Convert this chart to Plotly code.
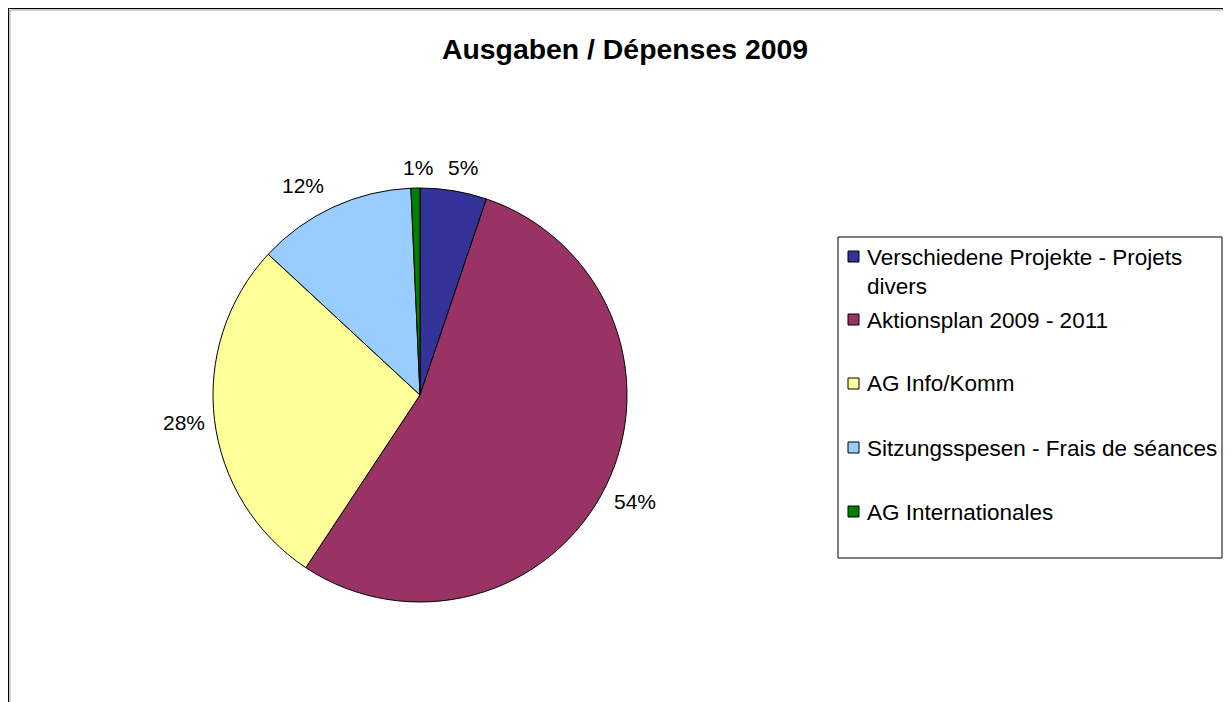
import math
import plotly.graph_objects as go

# Data
categories = [
    "Verschiedene Projekte - Projets divers",
    "Aktionsplan 2009 - 2011",
    "AG Info/Komm",
    "Sitzungsspesen - Frais de séances",
    "AG Internationales",
]
legend_text = [
    "Verschiedene Projekte - Projets<br>divers",
    "Aktionsplan 2009 - 2011",
    "AG Info/Komm",
    "Sitzungsspesen - Frais de séances",
    "AG Internationales",
]
shares = [5.2, 54.1, 27.6, 12.4, 0.7]
colors = ["#333399", "#993366", "#FFFF99", "#99CCFF", "#008000"]

# the page body adds an 8px margin, so the figure is shifted by that much
OFF = 8
W, H = 1231 - 2 * OFF, 702 - OFF
FONT = "Arial, Liberation Sans, sans-serif"

def px(x):
    return (x - OFF) / W

def py(y):
    return 1 - (y - OFF) / H

# pie centre / radius in window pixels
cx, cy, r = 420, 395, 207

fig = go.Figure()
fig.add_trace(go.Pie(
    labels=categories,
    values=shares,
    sort=False,
    direction="clockwise",
    rotation=0,
    marker=dict(colors=colors, line=dict(color="black", width=1)),
    textinfo="none",
    domain=dict(x=[px(cx - r), px(cx + r)], y=[py(cy + r), py(cy - r)]),
    showlegend=False,
    hoverinfo="label+percent",
))

shapes = []
# outer chart frame (cut by the window on right/bottom)
shapes.append(dict(type="rect", xref="paper", yref="paper",
                   x0=px(10), y0=-0.05, x1=1.05, y1=py(10),
                   line=dict(color="#999999", width=1)))
shapes.append(dict(type="rect", xref="paper", yref="paper",
                   x0=px(8), y0=-0.05, x1=1.05, y1=py(8),
                   line=dict(color="black", width=2)))

# legend box
shapes.append(dict(type="rect", xref="paper", yref="paper",
                   x0=px(838), y0=py(558), x1=px(1222), y1=py(237),
                   line=dict(color="black", width=1), fillcolor="white"))

annotations = []

# percentage labels outside the slices, at each slice's middle angle
# (small pixel nudges mimic the spreadsheet's own label placement)
label_nudge = [(5, 1), (7, 4), (-6, 0), (-20, 1), (3, 4)]
total = sum(shares)
cum = 0.0
r_lab = r + 25
for v, (dx, dy) in zip(shares, label_nudge):
    theta = 2 * math.pi * (cum + v / 2) / total
    cum += v
    annotations.append(dict(
        text=f"{round(v / total * 100)}%", xref="paper", yref="paper",
        x=px(cx + r_lab * math.sin(theta) + dx),
        y=py(cy - r_lab * math.cos(theta) + dy),
        xanchor="center", yanchor="middle", showarrow=False,
        font=dict(family=FONT, size=21, color="black"),
    ))

row_y = [257, 320, 384, 448, 512]
for i, name in enumerate(legend_text):
    y = row_y[i]
    shapes.append(dict(type="rect", xref="paper", yref="paper",
                       x0=px(848), x1=px(859), y0=py(y + 5), y1=py(y - 6),
                       fillcolor=colors[i], line=dict(color="black", width=1)))
    two_lines = "<br>" in name
    annotations.append(dict(
        text=name, xref="paper", yref="paper",
        x=px(865), y=py(y - 14) if two_lines else py(y),
        xanchor="left", yanchor="top" if two_lines else "middle",
        align="left", showarrow=False,
        font=dict(family=FONT, size=22.5, color="black"),
    ))

fig.update_layout(
    width=W, height=H,
    margin=dict(l=0, r=0, t=0, b=0),
    paper_bgcolor="white",
    plot_bgcolor="white",
    title=dict(text="<b>Ausgaben / Dépenses 2009</b>",
               x=px(625), xanchor="center", y=py(49), yanchor="middle",
               font=dict(family=FONT, size=28.4, color="black")),
    shapes=shapes,
    annotations=annotations,
)

fig.write_html("out.html")
